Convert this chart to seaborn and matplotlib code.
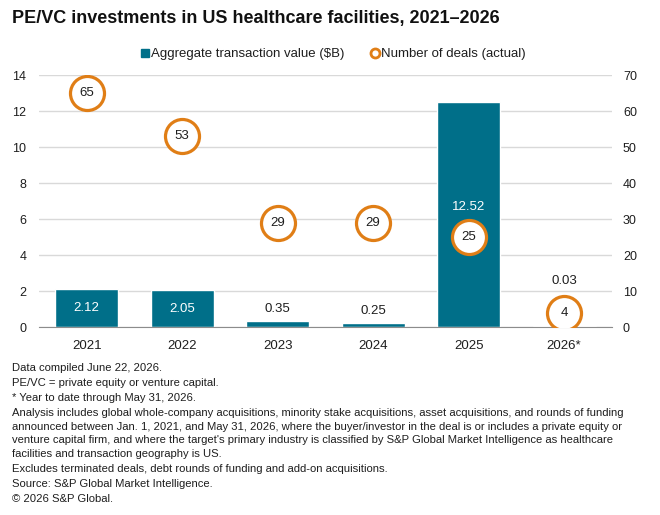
import numpy as np
import pandas as pd
import matplotlib
matplotlib.use("Agg")
import matplotlib.pyplot as plt
from matplotlib.lines import Line2D
import seaborn as sns

# ------------------------------------------ DATA ------------------------------------------------------------#
years = ['2021', '2022', '2023', '2024', '2025', '2026*']
value_bn = [2.12, 2.05, 0.35, 0.25, 12.52, 0.03]
deals = [65, 53, 29, 29, 25, 4]

title = 'PE/VC investments in US healthcare facilities, 2021\u20132026'
legend_labels = ['Aggregate transaction value ($B)', 'Number of deals (actual)']
notes = [
    ['Data compiled June 22, 2026.'],
    ['PE/VC = private equity or venture capital.'],
    ['* Year to date through May 31, 2026.'],
    ['Analysis includes global whole-company acquisitions, minority stake acquisitions, asset acquisitions, and rounds of funding',
     'announced between Jan. 1, 2021, and May 31, 2026, where the buyer/investor in the deal is or includes a private equity or',
     "venture capital firm, and where the target's primary industry is classified by S&P Global Market Intelligence as healthcare",
     'facilities and transaction geography is US.'],
    ['Excludes terminated deals, debt rounds of funding and add-on acquisitions.'],
    ['Source: S&P Global Market Intelligence.'],
    ['\u00a9 2026 S&P Global.'],
]

teal = '#006f89'
orange = '#e07e16'
txt = '#1e1e1e'

# ------------------------------------------ PLOT ------------------------------------------------------------#
sns.set_style('white')
plt.rcParams['font.family'] = ['Liberation Sans', 'DejaVu Sans']

df = pd.DataFrame({'year': years, 'value': value_bn, 'deals': deals})

fig = plt.figure(figsize=(6.6, 5.15), dpi=100)
ax = fig.add_axes([0.059, 0.365, 0.868, 0.489])
sns.barplot(data=df, x='year', y='value', color=teal, width=0.66, saturation=1, ax=ax)
ax.set_xlim(-0.5, 5.5)
ax.set_ylim(0, 14)
ax.set_yticks(range(0, 15, 2))
ax.set_xlabel('')
ax.set_ylabel('')
ax.grid(axis='y', color='#d9d9d9', lw=1)
ax.set_axisbelow(True)
for s in ['top', 'right', 'left']:
    ax.spines[s].set_visible(False)
ax.spines['bottom'].set_color('#8c8c8c')
ax.tick_params(axis='both', length=0, colors=txt)
ax.tick_params(axis='x', labelsize=9.5, pad=9)
ax.tick_params(axis='y', labelsize=9, pad=9)

ax2 = ax.twinx()
sns.scatterplot(x=np.arange(len(years)), y=deals, ax=ax2, s=600, marker='o',
                facecolor='white', edgecolor=orange, linewidth=2.3, zorder=5)
ax2.set_ylim(0, 70)
ax2.set_yticks(range(0, 71, 10))
for s in ax2.spines.values():
    s.set_visible(False)
ax2.tick_params(axis='y', length=0, labelsize=9, colors=txt, pad=8)
ax2.grid(False)

# deal counts inside circles
for i, d in enumerate(deals):
    ax2.text(i, d, str(d), ha='center', va='center', fontsize=9.5, color=txt, zorder=6)

# bar value labels
for i, v in enumerate(value_bn):
    circ = deals[i] * 14 / 70
    if v > 1.5:
        y = v / 2
        if abs(y - circ) < 1.6:
            y = circ + 1.67
        ax.text(i, y, f'{v:.2f}', ha='center', va='center', fontsize=9.5, color='white', zorder=4)
    else:
        y = v + 0.3
        if circ < 3:
            y = circ + 1.42
        ax.text(i, y, f'{v:.2f}', ha='center', va='bottom', fontsize=9.5, color=txt, zorder=4)

# legend
handles = [Line2D([], [], marker='s', ls='', color=teal, markersize=6),
           Line2D([], [], marker='o', ls='', markerfacecolor='white', markeredgecolor=orange,
                  markeredgewidth=2, markersize=6.5)]
fig.legend(handles, legend_labels, loc='center', bbox_to_anchor=(0.504, 0.895), ncol=2,
           frameon=False, fontsize=9.5, handletextpad=0.05, columnspacing=1.9, handlelength=0.8,
           labelcolor=txt)

fig.text(0.018, 0.964, title, fontsize=13, fontweight='bold', color='#111111', va='center')

# footnotes
y = 0.2854
for para in notes:
    for line in para:
        fig.text(0.018, y, line, fontsize=8.1, color=txt, va='center')
        y -= 0.0265
    y -= 0.0026

plt.savefig('out.png', dpi=100)
